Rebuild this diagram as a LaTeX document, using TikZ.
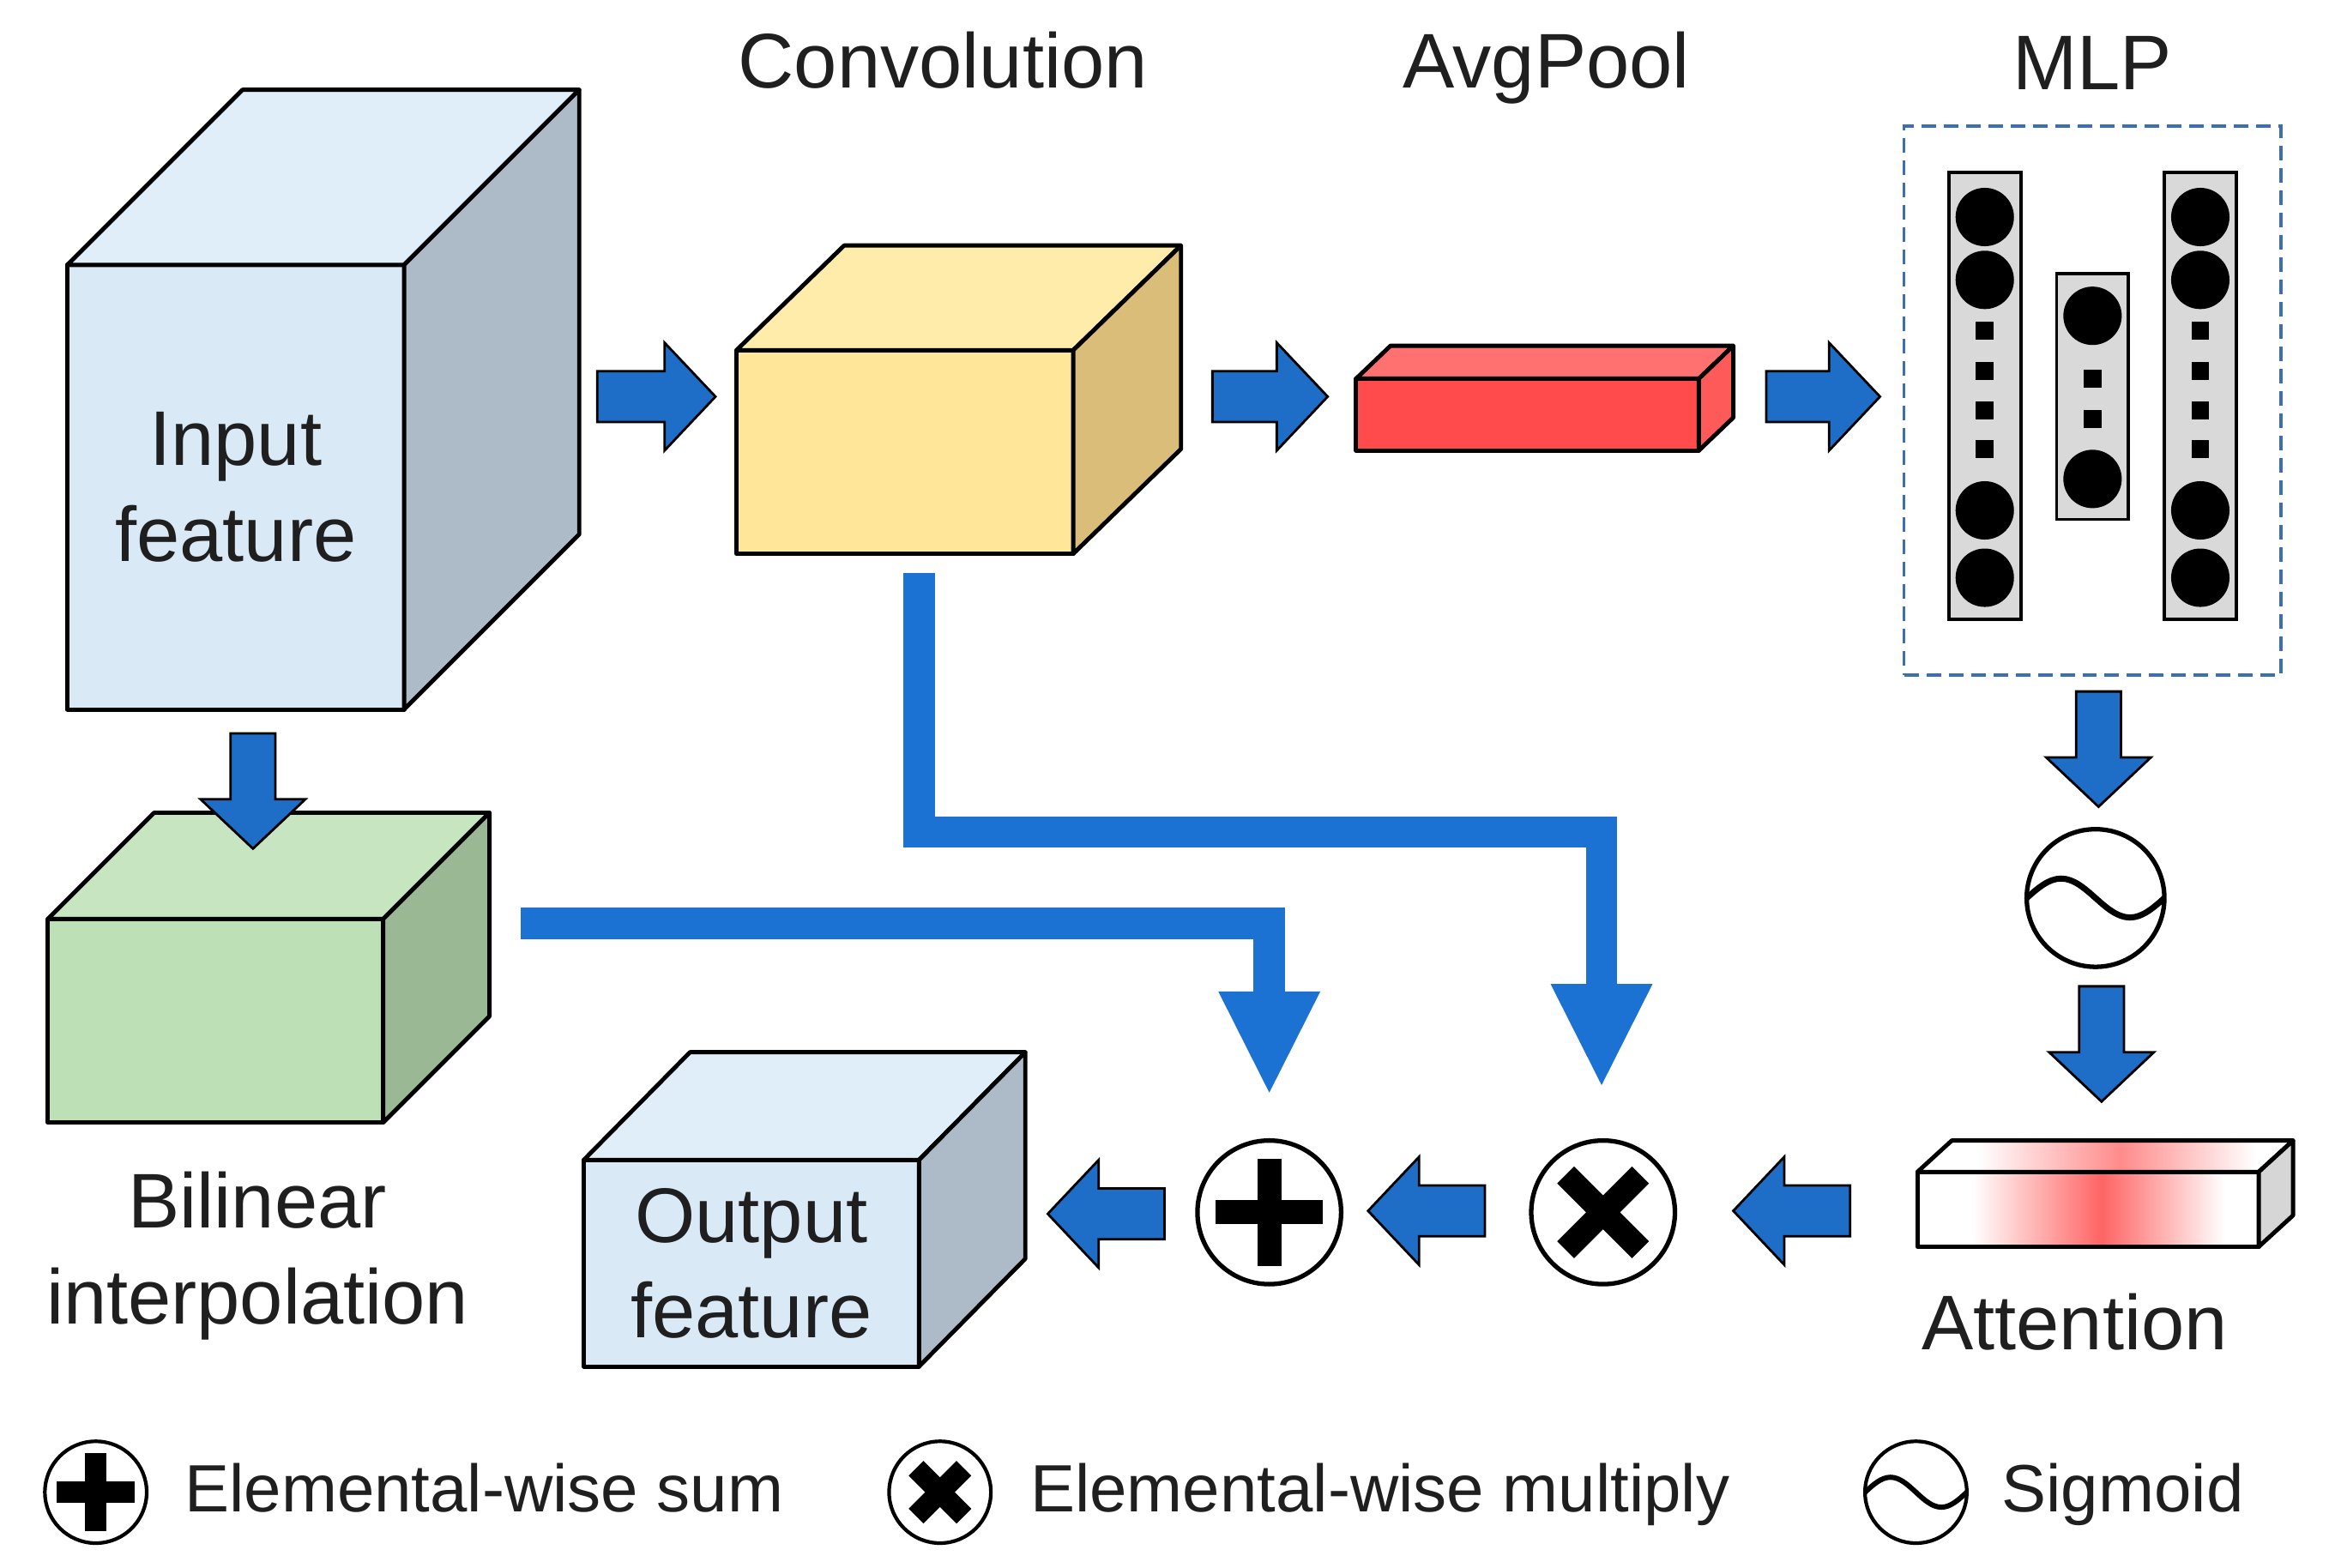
\documentclass[tikz,border=0pt]{standalone}
\usepackage{fontspec}
\setmainfont{Liberation Sans}
\usetikzlibrary{calc,fit,arrows.meta}
\definecolor{inF}{HTML}{DAE9F6}
\definecolor{inT}{HTML}{E0EEF9}
\definecolor{inS}{HTML}{ADBAC8}
\definecolor{cvF}{HTML}{FFE699}
\definecolor{cvT}{HTML}{FFEBAA}
\definecolor{cvS}{HTML}{D9BD78}
\definecolor{gnF}{HTML}{BDE0B6}
\definecolor{gnT}{HTML}{C7E5C0}
\definecolor{gnS}{HTML}{9AB893}
\definecolor{rdF}{HTML}{FF4B4B}
\definecolor{rdT}{HTML}{FF7070}
\definecolor{rdS}{HTML}{FF5A5A}
\definecolor{atS}{HTML}{D6D6D6}
\definecolor{attred}{HTML}{FF6464}
\definecolor{ablue}{HTML}{1E6EC8}
\definecolor{cblue}{HTML}{1C72D2}
\definecolor{dashblue}{HTML}{3C6EB4}
\definecolor{colgray}{HTML}{D9D9D9}
\definecolor{txt}{HTML}{1F1F1F}
\pgfdeclarehorizontalshading{attnshade}{100bp}{color(0bp)=(white); color(33bp)=(white); color(52bp)=(attred); color(70bp)=(white); color(100bp)=(white)}
\pgfdeclarehorizontalshading{attntop}{100bp}{color(0bp)=(white); color(33bp)=(white); color(52bp)=(attred!75!white); color(70bp)=(white); color(100bp)=(white)}
\tikzset{
  face/.style={draw=black, line width=1.4pt, line join=round, inner sep=0pt, outer sep=0pt},
  lbl/.style={font=\fontsize{25.7}{31.7}\selectfont, text=txt, inner sep=0pt, align=center},
  leg/.style={font=\fontsize{22.2}{26}\selectfont, text=txt, inner sep=0pt},
  barrow/.style={fill=ablue, draw=black, line width=0.8pt, line join=miter},
  conn/.style={draw=cblue, line width=3.66mm, line join=miter, -{Triangle[width=11.9mm,length=11.8mm,line width=0pt]}},
  opnode/.style={circle, draw=black, line width=1.5pt, fill=white, minimum size=16.75mm, inner sep=0pt},
  legop/.style={circle, draw=black, line width=1.2pt, fill=white, minimum size=11.87mm, inner sep=0pt},
  col/.style={draw=black, fill=colgray, line width=1.1pt, inner sep=0pt, outer sep=0pt},
}
% #1 name, #2 (x1,y1), #3 (x2,y2), #4 dx, #5 dy, #6 front style, #7 top style, #8 side colour, #9 text
\newcommand\mycube[9]{%
  \node[face, #6, fit={#2 #3}] (#1) {};
  \draw[face, #7] (#1.north west) -- ++(#4,-#5) -- ($(#1.north east)+(#4,-#5)$) -- (#1.north east) -- cycle;
  \draw[face, fill=#8] (#1.north east) -- ++(#4,-#5) -- ($(#1.south east)+(#4,-#5)$) -- (#1.south east) -- cycle;
  \node[lbl] (#1-t) at (#1.center) {#9};
}
\newcommand\arrR[2]{\draw[barrow] ($(#1)+(0,-17)$) -- ($(#2)+(-34,-17)$) -- ($(#2)+(-34,-36)$) -- (#2) -- ($(#2)+(-34,36)$) -- ($(#2)+(-34,17)$) -- ($(#1)+(0,17)$) -- cycle;}
\newcommand\arrL[2]{\draw[barrow] ($(#1)+(0,-17)$) -- ($(#2)+(34,-17)$) -- ($(#2)+(34,-36)$) -- (#2) -- ($(#2)+(34,36)$) -- ($(#2)+(34,17)$) -- ($(#1)+(0,17)$) -- cycle;}
\newcommand\arrD[2]{\draw[barrow] ($(#1)+(-15,0)$) -- ($(#2)+(-15,-33)$) -- ($(#2)+(-35,-33)$) -- (#2) -- ($(#2)+(35,-33)$) -- ($(#2)+(15,-33)$) -- ($(#1)+(15,0)$) -- cycle;}
\begin{document}
\begin{tikzpicture}[x=0.1745mm, y=-0.1745mm]
\useasboundingbox (0,0) rectangle (1560,1047.6);
\fill[white] (0,0) rectangle (1560,1047.6);

% titles
\node[lbl, anchor=base] (tconv) at (630,59) {Convolution};
\node[lbl, anchor=base] (tavg) at (1033,59) {AvgPool};
\node[lbl, anchor=base] (tmlp) at (1398,60) {MLP};

% cubes
\mycube{inp}{(45,177)}{(270,474)}{117}{117}{fill=inF}{fill=inT}{inS}{Input\\feature}
\mycube{conv}{(492,234)}{(717,370)}{72}{70}{fill=cvF}{fill=cvT}{cvS}{}
\mycube{bil}{(32,614)}{(256,750)}{71}{71}{fill=gnF}{fill=gnT}{gnS}{}
\mycube{out}{(390,775)}{(614,913)}{71}{72}{fill=inF}{fill=inT}{inS}{Output\\feature}
\mycube{avg}{(906,253)}{(1135,301)}{23}{22}{fill=rdF}{fill=rdT}{rdS}{}
\mycube{att}{(1281,783)}{(1509,833)}{23}{21}{shade, shading=attnshade}{shade, shading=attntop}{atS}{}

\node[lbl] (tbil) at (172,839) {Bilinear\\interpolation};
\node[lbl, anchor=base] (tatt) at (1386,902) {Attention};

% MLP
\node[draw=dashblue, dashed, dash pattern=on 1.7mm off 0.9mm, line width=1.1pt, inner sep=0pt, fit={(1272,84) (1524,451)}] (mlp) {};
\node[col, fit={(1302,115) (1350,414)}] (c1) {};
\node[col, fit={(1374,183) (1422,347)}] (c2) {};
\node[col, fit={(1446,115) (1494,414)}] (c3) {};
\foreach \cx in {1326,1470}{
  \foreach \cy in {145,187,341,386} \fill[black] (\cx,\cy) circle[radius=19.5];
  \foreach \cy in {221,248,274,300} \fill[black] (\cx-6,\cy-6) rectangle (\cx+6,\cy+6);
}
\foreach \cy in {211,320} \fill[black] (1398,\cy) circle[radius=19.5];
\foreach \cy in {253,280} \fill[black] (1392,\cy-6) rectangle (1404,\cy+6);

% operators
\node[opnode] (sum) at (848,810) {};
\draw[line width=2.79mm] ($(sum)+(-36,0)$) -- ($(sum)+(36,0)$);
\draw[line width=2.79mm] ($(sum)+(0,-36)$) -- ($(sum)+(0,36)$);
\node[opnode] (mul) at (1071,810) {};
\draw[line width=2.79mm] ($(mul)+(-25,-25)$) -- ($(mul)+(25,25)$);
\draw[line width=2.79mm] ($(mul)+(-25,25)$) -- ($(mul)+(25,-25)$);
\node[opnode, minimum size=16.05mm] (sig) at (1400,600) {};
\draw[line width=2pt] ($(sig)+(-46,0)$) sin ($(sig)+(-23,-13)$) cos ($(sig)+(0,0)$) sin ($(sig)+(23,13)$) cos ($(sig)+(46,0)$);

% connectors
\coordinate (gs) at (348,617);
\coordinate (sumin) at (848,730);
\coordinate (cs) at (614,383);
\coordinate (cmid) at (1070,556);
\coordinate (mulin) at (1070,725);
\draw[conn] (gs) -| (sumin);
\draw[conn] (cs) |- (cmid) -- (mulin);

% block arrows
\coordinate (a1s) at (399,265); \coordinate (a1e) at (478,265);
\coordinate (a2s) at (810,265); \coordinate (a2e) at (887,265);
\coordinate (a3s) at (1180,265); \coordinate (a3e) at (1256,265);
\coordinate (d1s) at (169,490); \coordinate (d1e) at (169,567);
\coordinate (d2s) at (1402,462); \coordinate (d2e) at (1402,539);
\coordinate (d3s) at (1404,659); \coordinate (d3e) at (1404,736);
\coordinate (l1s) at (1236,809); \coordinate (l1e) at (1158,809);
\coordinate (l2s) at (992,809); \coordinate (l2e) at (914,809);
\coordinate (l3s) at (778,811); \coordinate (l3e) at (700,811);
\arrR{a1s}{a1e}
\arrR{a2s}{a2e}
\arrR{a3s}{a3e}
\arrD{d1s}{d1e}
\arrD{d2s}{d2e}
\arrD{d3s}{d3e}
\arrL{l1s}{l1e}
\arrL{l2s}{l2e}
\arrL{l3s}{l3e}

% legend
\node[legop] (lsum) at (64,997) {};
\draw[line width=2.44mm] ($(lsum)+(-26,0)$) -- ($(lsum)+(26,0)$);
\draw[line width=2.44mm] ($(lsum)+(0,-26)$) -- ($(lsum)+(0,26)$);
\node[leg, anchor=base west] (tlsum) at (123,1010) {Elemental-wise sum};
\node[legop] (lmul) at (628,997) {};
\draw[line width=2.44mm] ($(lmul)+(-16,-16)$) -- ($(lmul)+(16,16)$);
\draw[line width=2.44mm] ($(lmul)+(-16,16)$) -- ($(lmul)+(16,-16)$);
\node[leg, anchor=base west] (tlmul) at (688,1010) {Elemental-wise multiply};
\node[legop] (lsig) at (1280,997) {};
\draw[line width=1.7pt] ($(lsig)+(-34,0)$) sin ($(lsig)+(-17,-10)$) cos ($(lsig)+(0,0)$) sin ($(lsig)+(17,10)$) cos ($(lsig)+(34,0)$);
\node[leg, anchor=base west] (tlsig) at (1337,1010) {Sigmoid};
\end{tikzpicture}
\end{document}
